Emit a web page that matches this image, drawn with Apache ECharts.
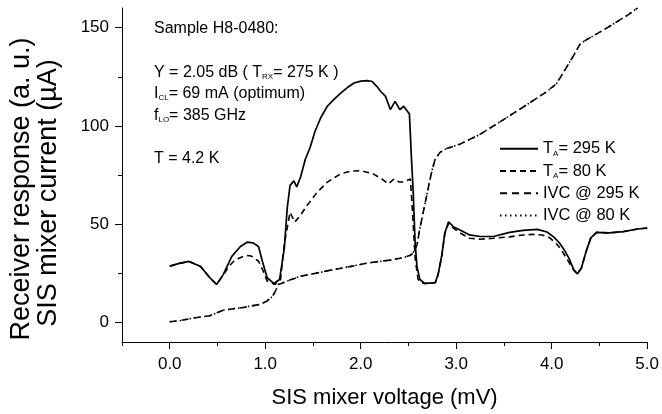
<!DOCTYPE html>
<html><head><meta charset="utf-8">
<script src="https://cdn.jsdelivr.net/npm/echarts@6/dist/echarts.min.js"></script>
<style>html,body{margin:0;padding:0;background:#fff}#c{width:662px;height:414px}</style>
</head><body><div id="c"></div>
<script>
// ---- axis ticks ----
const xTicks = [0, 1, 2, 3, 4, 5];
const xMinorTicks = [-0.5, 0.5, 1.5, 2.5, 3.5, 4.5];
const yTicks = [0, 50, 100, 150];
const yMinorTicks = [25, 75, 125];

// ---- series names ----
const seriesNames = ['TA295', 'TA80', 'IVC295', 'IVC80'];

// ---- T_A = 295 K (receiver response, hot load) ----
const vHot = [0.00,0.10,0.20,0.32,0.42,0.49,0.56,0.65,0.74,0.81,0.87,0.93,0.97,1.02,1.09,1.15,1.20,1.23,1.26,1.30,1.33,1.37,1.42,1.47,1.52,1.58,1.65,1.72,1.79,1.86,1.93,2.00,2.07,2.12,2.17,2.21,2.26,2.31,2.36,2.41,2.45,2.47,2.51,2.53,2.55,2.57,2.59,2.62,2.67,2.72,2.78,2.81,2.85,2.88,2.92,2.97,3.04,3.14,3.25,3.39,3.56,3.70,3.85,3.95,4.02,4.08,4.13,4.18,4.23,4.27,4.31,4.36,4.41,4.47,4.60,4.75,4.90,5.00];
const iHot = [28.6,30,31,28.6,22.7,19.3,24.3,33.6,38.6,40.8,40.5,38.6,31.1,22.7,19.8,21.8,37.8,58,69.7,72,68.9,74,83,89,97,104,110,113.5,116.7,119.5,121.8,122.8,123,122.6,120,117.5,115,108.3,112.5,108.3,110,110,106,85,66,40,28,21.8,19.8,20,20.2,24.3,34.4,45.3,51.2,48.7,47,44.5,43.7,43.7,45.8,46.8,47.3,46,43.5,40.5,37,32.7,26.9,24.7,27.5,36,43,45.8,45.5,46.2,47.5,48];

// ---- T_A = 80 K (receiver response, cold load) ----
const vCold = [0.00,0.10,0.20,0.32,0.42,0.49,0.56,0.62,0.67,0.72,0.77,0.82,0.86,0.93,0.98,1.02,1.10,1.16,1.18,1.20,1.23,1.26,1.31,1.37,1.44,1.54,1.65,1.79,1.90,2.00,2.13,2.22,2.29,2.35,2.40,2.45,2.52,2.54,2.57,2.60,2.62,2.67,2.72,2.78,2.81,2.85,2.88,2.92,2.97,3.04,3.14,3.25,3.39,3.56,3.70,3.80,3.90,3.98,4.05,4.10,4.15,4.20,4.24,4.27,4.31,4.36,4.41,4.47,4.60,4.75,4.90,5.00];
const iCold = [28.6,30,31,28.6,22.7,19.3,24,28.5,31.1,32.5,33.6,34,33.6,31.1,26,21,19.3,21.8,31,40,48,56,51,54.6,59.6,66,71.4,75.6,77,77.2,75.6,73,70.5,73,71.5,71.4,73,58,32.7,22,20.5,19.8,20,20.2,24.3,34,45,50.5,48,45.5,42.8,42.3,42.8,43.5,44.5,44.8,44.5,43,40,37,33,29,26,24.7,27.5,36,43,45.8,45.5,46.2,47.5,48];

// ---- IVC @ 295 K (pumped I-V curve) ----
const vIvcHot = [0.00,0.10,0.25,0.42,0.56,0.63,0.77,0.95,1.02,1.06,1.09,1.14,1.23,1.37,1.55,1.72,1.90,2.07,2.20,2.34,2.45,2.52,2.55,2.59,2.62,2.67,2.72,2.75,2.78,2.83,2.90,3.04,3.25,3.50,3.74,3.95,4.05,4.12,4.19,4.25,4.30,4.37,4.44,4.55,4.65,4.80,4.90];
const iIvcHot = [0.3,0.8,2.2,3.4,6.2,6.7,7.6,9.2,10.9,12.5,14.3,19.3,21,23.5,25.2,26.9,28.5,30.2,31,31.9,33,34.1,35.5,39.5,47.9,59.6,71.4,78,83,86.5,88.5,90.7,95.7,103.3,110.8,117.5,121.5,127,132.6,137.5,141.9,144,146,149,152,156.5,160];

// ---- IVC @ 80 K (pumped I-V curve) ----
const vIvcCold = [0.00,0.10,0.25,0.42,0.56,0.63,0.77,0.95,1.02,1.06,1.09,1.14,1.23,1.37,1.55,1.72,1.90,2.07,2.20,2.34,2.45,2.52,2.55,2.59,2.62,2.67,2.72,2.75,2.78,2.83,2.90,3.04,3.25,3.50,3.74,3.95,4.05,4.12,4.19,4.25,4.30,4.37,4.44,4.55,4.65,4.80,4.90];
const iIvcCold = [0.3,0.8,2.2,3.4,6.2,6.7,7.6,9.2,10.9,12.5,14.3,19.3,21,23.5,25.2,26.9,28.5,30.2,31,31.9,33,34.1,35.5,39.5,47.9,59.6,71.4,78,83,86.5,88.5,90.7,95.7,103.3,110.8,117.5,121.5,127,132.6,137.5,141.9,144,146,149,152,156.5,160];

const FF = 'Liberation Sans';
const zip = (a, b) => a.map((v, k) => [v, b[k]]);

const legendLabels = {
  TA295: '{n|T}{s|A}{n|= 295 K}',
  TA80: '{n|T}{s|A}{n|= 80 K}',
  IVC295: '{n|IVC @ 295 K}',
  IVC80: '{n|IVC @ 80 K}'
};
const richN = { fontFamily: FF, fontSize: 16, color: '#000' };
const richS = { fontFamily: FF, fontSize: 8, color: '#000', verticalAlign: 'bottom' };
const richLN = { fontFamily: FF, fontSize: 16.5, color: '#000' };

function mkText(x, y, txt) {
  return { type: 'text', x: x, y: y, silent: true,
    style: { text: txt, textAlign: 'left', textVerticalAlign: 'middle', fill: '#000',
      rich: { n: richN, s: richS } } };
}

const chart = echarts.init(document.getElementById('c'), null, { renderer: 'canvas' });
const axLine = { show: true, onZero: false, lineStyle: { color: '#000', width: 1 } };
const noLine = { show: false, onZero: false };
const option = {
  animation: false,
  backgroundColor: '#fff',
  grid: { left: 122, right: 14, top: 8, bottom: 69 },
  xAxis: [
    { type: 'value', min: -0.5, max: 5, position: 'bottom',
      axisLine: axLine, splitLine: { show: false },
      axisTick: { show: true, inside: false, length: 7, customValues: xTicks, lineStyle: { color: '#000' } },
      axisLabel: { customValues: xTicks, margin: 14, color: '#000', fontFamily: FF, fontSize: 17,
        formatter: v => v.toFixed(1) },
      name: 'SIS mixer voltage (mV)', nameLocation: 'middle', nameGap: 45,
      nameTextStyle: { fontFamily: FF, fontSize: 22, color: '#000' } },
    { type: 'value', min: -0.5, max: 5, position: 'bottom',
      axisLine: noLine, splitLine: { show: false },
      axisTick: { show: true, inside: false, length: 4, customValues: xMinorTicks, lineStyle: { color: '#000' } },
      axisLabel: { show: false, customValues: xMinorTicks } }
  ],
  yAxis: [
    { type: 'value', min: -10, max: 160, position: 'left',
      axisLine: axLine, splitLine: { show: false },
      axisTick: { show: true, inside: false, length: 7, customValues: yTicks, lineStyle: { color: '#000' } },
      axisLabel: { customValues: yTicks, margin: 13, color: '#000', fontFamily: FF, fontSize: 17 } },
    { type: 'value', min: -10, max: 160, position: 'left',
      axisLine: noLine, splitLine: { show: false },
      axisTick: { show: true, inside: false, length: 4, customValues: yMinorTicks, lineStyle: { color: '#000' } },
      axisLabel: { show: false, customValues: yMinorTicks } }
  ],
  legend: {
    orient: 'vertical', left: 499, top: 140.3, padding: 0, itemWidth: 38, itemHeight: 14, itemGap: 5.2,
    data: seriesNames,
    itemStyle: { opacity: 0, borderWidth: 0 },
    formatter: name => legendLabels[name],
    textStyle: { fontFamily: FF, fontSize: 16.5, color: '#000', rich: { n: richLN, s: richS } }
  },
  graphic: [
    mkText(154, 28.5, '{n|Sample H8-0480:}'),
    mkText(154, 73, '{n|Y = 2.05 dB ( T}{s|RX}{n|= 275 K )}'),
    mkText(154, 94, '{n|I}{s|CL}{n|= 69 mA (optimum)}'),
    mkText(154, 115.5, '{n|f}{s|LO}{n|= 385 GHz}'),
    mkText(154, 158.5, '{n|T = 4.2 K}'),
    { type: 'text', x: 21.5, y: 189, rotation: Math.PI / 2, silent: true,
      style: { text: 'Receiver response (a. u.)', textAlign: 'center', textVerticalAlign: 'middle',
        fill: '#000', fontFamily: FF, fontSize: 27 } },
    { type: 'text', x: 48.5, y: 193, rotation: Math.PI / 2, silent: true,
      style: { text: 'SIS mixer current (\u00B5A)', textAlign: 'center', textVerticalAlign: 'middle',
        fill: '#000', fontFamily: FF, fontSize: 27 } }
  ],
  series: [
    { name: 'TA295', type: 'line', xAxisIndex: 0, yAxisIndex: 0, data: zip(vHot, iHot),
      showSymbol: false, symbol: 'none', lineStyle: { color: '#000', width: 1.7, type: 'solid' }, itemStyle: { color: '#000' } },
    { name: 'TA80', type: 'line', xAxisIndex: 0, yAxisIndex: 0, data: zip(vCold, iCold),
      showSymbol: false, symbol: 'none', lineStyle: { color: '#000', width: 1.6, type: [6, 4] }, itemStyle: { color: '#000' } },
    { name: 'IVC295', type: 'line', xAxisIndex: 0, yAxisIndex: 0, data: zip(vIvcHot, iIvcHot),
      showSymbol: false, symbol: 'none', lineStyle: { color: '#000', width: 1.6, type: [7, 5] }, itemStyle: { color: '#000' } },
    { name: 'IVC80', type: 'line', xAxisIndex: 0, yAxisIndex: 0, data: zip(vIvcCold, iIvcCold),
      showSymbol: false, symbol: 'none', lineStyle: { color: '#000', width: 1.6, type: [1.5, 3.5] }, itemStyle: { color: '#000' } }
  ]
};
chart.setOption(option);
</script></body></html>
